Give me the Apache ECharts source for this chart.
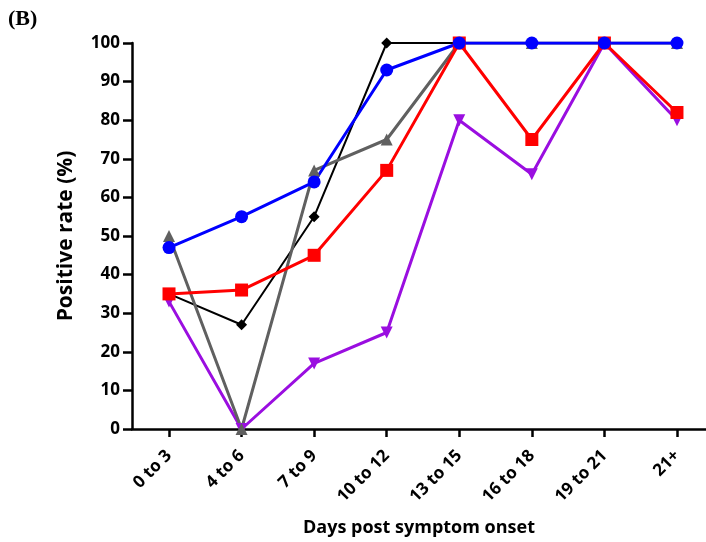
<!DOCTYPE html>
<html><head><meta charset="utf-8">
<script src="https://cdn.jsdelivr.net/npm/echarts@6/dist/echarts.min.js"></script>
<style>html,body{margin:0;padding:0;background:#fff}#c{width:706px;height:542px}</style>
</head><body><div id="c"></div>
<script>
const categories = ['0 to 3','4 to 6','7 to 9','10 to 12','13 to 15','16 to 18','19 to 21','21+'];
const blackVals  = [35, 27, 55, 100, 100, 100, 100, 100];
const greyVals   = [50, 0, 67, 75, 100, 100, 100, 100];
const purpleVals = [33, 0, 17, 25, 80, 66, 100, 80];
const redVals    = [35, 36, 45, 67, 100, 75, 100, 82];
const blueVals   = [47, 55, 64, 93, 100, 100, 100, 100];
const yTicks = [0,10,20,30,40,50,60,70,80,90,100];

const idx = categories.map((_, i) => i);
const pts = arr => arr.map((v, i) => [i, v]);
const font = '"Open Sans", "DejaVu Sans", sans-serif';

function line(name, data, color, symbol, size, width, rotate) {
  return {
    name, type: 'line', data: pts(data), symbol, symbolSize: size, symbolRotate: rotate || 0,
    lineStyle: { color, width }, itemStyle: { color }, animation: false, z: 2
  };
}

const chart = echarts.init(document.getElementById('c'));
chart.setOption({
  backgroundColor: '#fff',
  animation: false,
  graphic: [{ type: 'text', left: 8, top: 8, style: { text: '(B)', font: 'bold 22px "Liberation Serif", serif', fill: '#000' } }],
  grid: { left: 132, right: 0, top: 43, bottom: 113, containLabel: false },
  xAxis: {
    type: 'value', min: -0.51, max: 7.4,
    name: 'Days post symptom onset', nameLocation: 'middle', nameGap: 90,
    nameTextStyle: { fontFamily: font, fontWeight: 'bold', fontSize: 18, color: '#000' },
    axisLine: { show: true, onZero: false, lineStyle: { color: '#000', width: 2.5 } },
    axisTick: { show: true, customValues: idx, length: 8, lineStyle: { color: '#000', width: 2.5 } },
    axisLabel: { customValues: idx, rotate: 45, margin: 24, fontFamily: font, fontWeight: 'bold', fontSize: 17, color: '#000',
      formatter: v => categories[Math.round(v)] },
    splitLine: { show: false }
  },
  yAxis: {
    type: 'value', min: 0, max: 100, interval: 10,
    name: 'Positive rate (%)', nameLocation: 'middle', nameGap: 55,
    nameTextStyle: { fontFamily: font, fontWeight: 'bold', fontSize: 21, color: '#000' },
    axisLine: { show: true, onZero: false, lineStyle: { color: '#000', width: 2.5 } },
    axisTick: { show: true, length: 9, lineStyle: { color: '#000', width: 2.5 } },
    axisLabel: { margin: 12, fontFamily: font, fontWeight: 'bold', fontSize: 17, color: '#000',
      formatter: v => yTicks.includes(v) ? String(v) : '' },
    splitLine: { show: false }
  },
  series: [
    line('black', blackVals, '#000000', 'diamond', 11, 2),
    line('purple', purpleVals, '#9a0ee0', 'triangle', 12, 3, 180),
    line('grey', greyVals, '#606060', 'triangle', 12, 3),
    line('red', redVals, '#ff0000', 'rect', 13, 3),
    line('blue', blueVals, '#0000ff', 'circle', 13, 3)
  ]
});
</script></body></html>
